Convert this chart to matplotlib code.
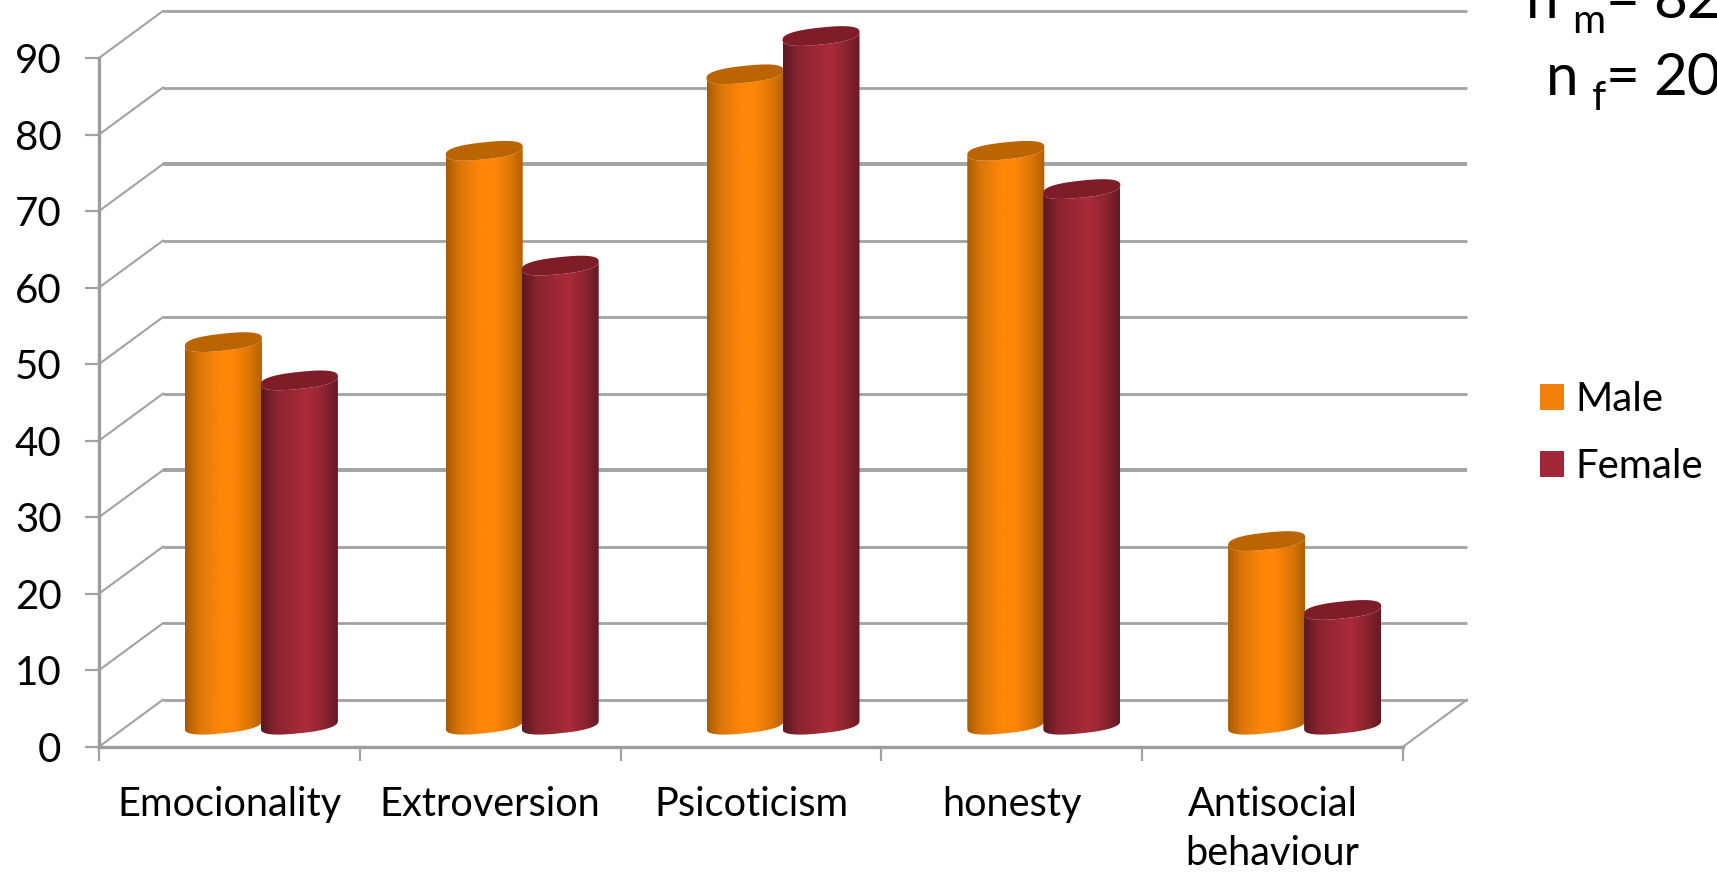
import numpy as np
from matplotlib import pyplot as plt
from matplotlib.colors import LinearSegmentedColormap
from matplotlib.patches import Patch, Polygon
from matplotlib.path import Path

categories = ["Emocionality", "Extroversion", "Psicoticism", "honesty", "Antisocial\nbehaviour"]
male = [50, 75, 85, 75, 24]
female = [45, 60, 90, 70, 15]
y_ticks = [0, 10, 20, 30, 40, 50, 60, 70, 80, 90]

W, H = 1717, 872
GRID = "#a2a2a2"
FONT = "Lato"

plt.rcParams["font.family"] = FONT

fig = plt.figure(figsize=(W / 100, H / 100), dpi=100)
ax = fig.add_axes([99 / W, (H - 746.7) / H, 1304 / W, 688.7 / H])
ax.set_xlim(0, 5)
ax.set_ylim(0, 90)

# fake 3d: depth of the floor in data units
px_x = 5 / 1304
px_y = 90 / 688.7
depth_x = 64 * px_x
depth_y = 47 * px_y

# back wall lines, a couple of them come out heavier
for v in y_ticks:
    lw = 2.8 if v in (30, 70) else 2.0
    ax.plot([0, depth_x], [v, v + depth_y], color=GRID, lw=1.5, clip_on=False, zorder=1)
    ax.plot([depth_x, 5 + depth_x], [v + depth_y, v + depth_y], color=GRID, lw=lw,
            clip_on=False, zorder=1, solid_capstyle="butt")
ax.plot([5, 5 + depth_x], [0, depth_y], color=GRID, lw=1.5, clip_on=False, zorder=1)


def ellipse(cx, cy, t):
    # tilted, slightly squared-off ellipse, right side sits a little higher
    a, b, s = 38.5 * px_x, 8.5 * px_y, 4 * px_y
    c = np.sign(np.cos(t)) * np.abs(np.cos(t)) ** 0.8
    d = np.sign(np.sin(t)) * np.abs(np.sin(t)) ** 0.8
    return cx + a * c, cy + b * d + s * c


def cylinder(cx, value, cmap, top_color, z):
    base = 0.5 * depth_y - 0.2
    t = np.linspace(np.pi, 2 * np.pi, 60)
    xb, yb = ellipse(cx, base, t)
    xt, yt = ellipse(cx, base + value, t[::-1])
    body = np.column_stack([np.r_[xb, xt], np.r_[yb, yt]])

    grad = np.linspace(0, 1, 256)[None, :]
    im = ax.imshow(grad, extent=(xb.min(), xb.max(), 0, base + value + 3), aspect="auto",
                   cmap=cmap, zorder=z, interpolation="bilinear")
    im.set_clip_box(fig.bbox)
    im.set_clip_path(Path(np.vstack([body, body[0]]), closed=True), ax.transData)

    t = np.linspace(0, 2 * np.pi, 120)
    x_top, y_top = ellipse(cx, base + value, t)
    ax.add_patch(Polygon(np.column_stack([x_top, y_top]), closed=True, fc=top_color, ec="none",
                         zorder=z + 0.1, clip_on=False))


male_cmap = LinearSegmentedColormap.from_list(
    "m", [(0, "#a85a04"), (0.18, "#dc7708"), (0.45, "#ff8608"), (0.62, "#ff8608"),
          (0.85, "#d87406"), (1, "#ae5e02")])
female_cmap = LinearSegmentedColormap.from_list(
    "f", [(0, "#5c1822"), (0.2, "#8a2430"), (0.6, "#ab2b3a"), (0.8, "#8f2531"), (1, "#641a25")])

for i in range(len(categories)):
    center = i + 0.5 + depth_x / 2
    cylinder(center - 38 * px_x, male[i], male_cmap, "#bb6402", 3)
    cylinder(center + 38 * px_x, female[i], female_cmap, "#7e1c28", 4)

ax.set_xlim(0, 5)
ax.set_ylim(0, 90)

ax.patch.set_alpha(0)
for side in ("top", "right"):
    ax.spines[side].set_visible(False)
for side in ("left", "bottom"):
    ax.spines[side].set_color("#9c9c9c")
    ax.spines[side].set_linewidth(2.4)

ax.set_yticks(y_ticks)
ax.tick_params(axis="y", length=10, width=1.6, color=GRID, labelsize=29, pad=17)
ax.set_xticks(range(6))
ax.set_xticklabels([])
ax.tick_params(axis="x", which="major", length=10, width=1.6, color=GRID)
ax.set_xticks(np.arange(5) + 0.5, categories, minor=True)
ax.tick_params(axis="x", which="minor", length=0, labelsize=28.6, pad=28)
for lab in ax.get_xticklabels(minor=True):
    lab.set_linespacing(1.42)

leg = fig.legend(
    handles=[Patch(fc="#f0800a", label="Male"), Patch(fc="#a02838", label="Female")],
    loc="upper left", bbox_to_anchor=(1540 / W, (H - 381) / H), frameon=False, fontsize=29,
    handlelength=0.6, handleheight=0.6, handletextpad=0.27, labelspacing=0.75,
    borderpad=0, borderaxespad=0)


def note(x, baseline, s, size):
    fig.text(x / W, (H - baseline) / H, s, fontsize=size, ha="left", va="baseline")


# sample sizes, first row runs off the top edge
note(1526, 18, "n", 42)
note(1572, 33, "m", 29)
note(1606, 18, "=", 42)
note(1653, 18, "82", 42)
note(1546, 95, "n", 42)
note(1592, 110, "f", 29)
note(1606, 95, "=", 42)
note(1653, 95, "20", 42)

plt.savefig("out.png", dpi=100)
